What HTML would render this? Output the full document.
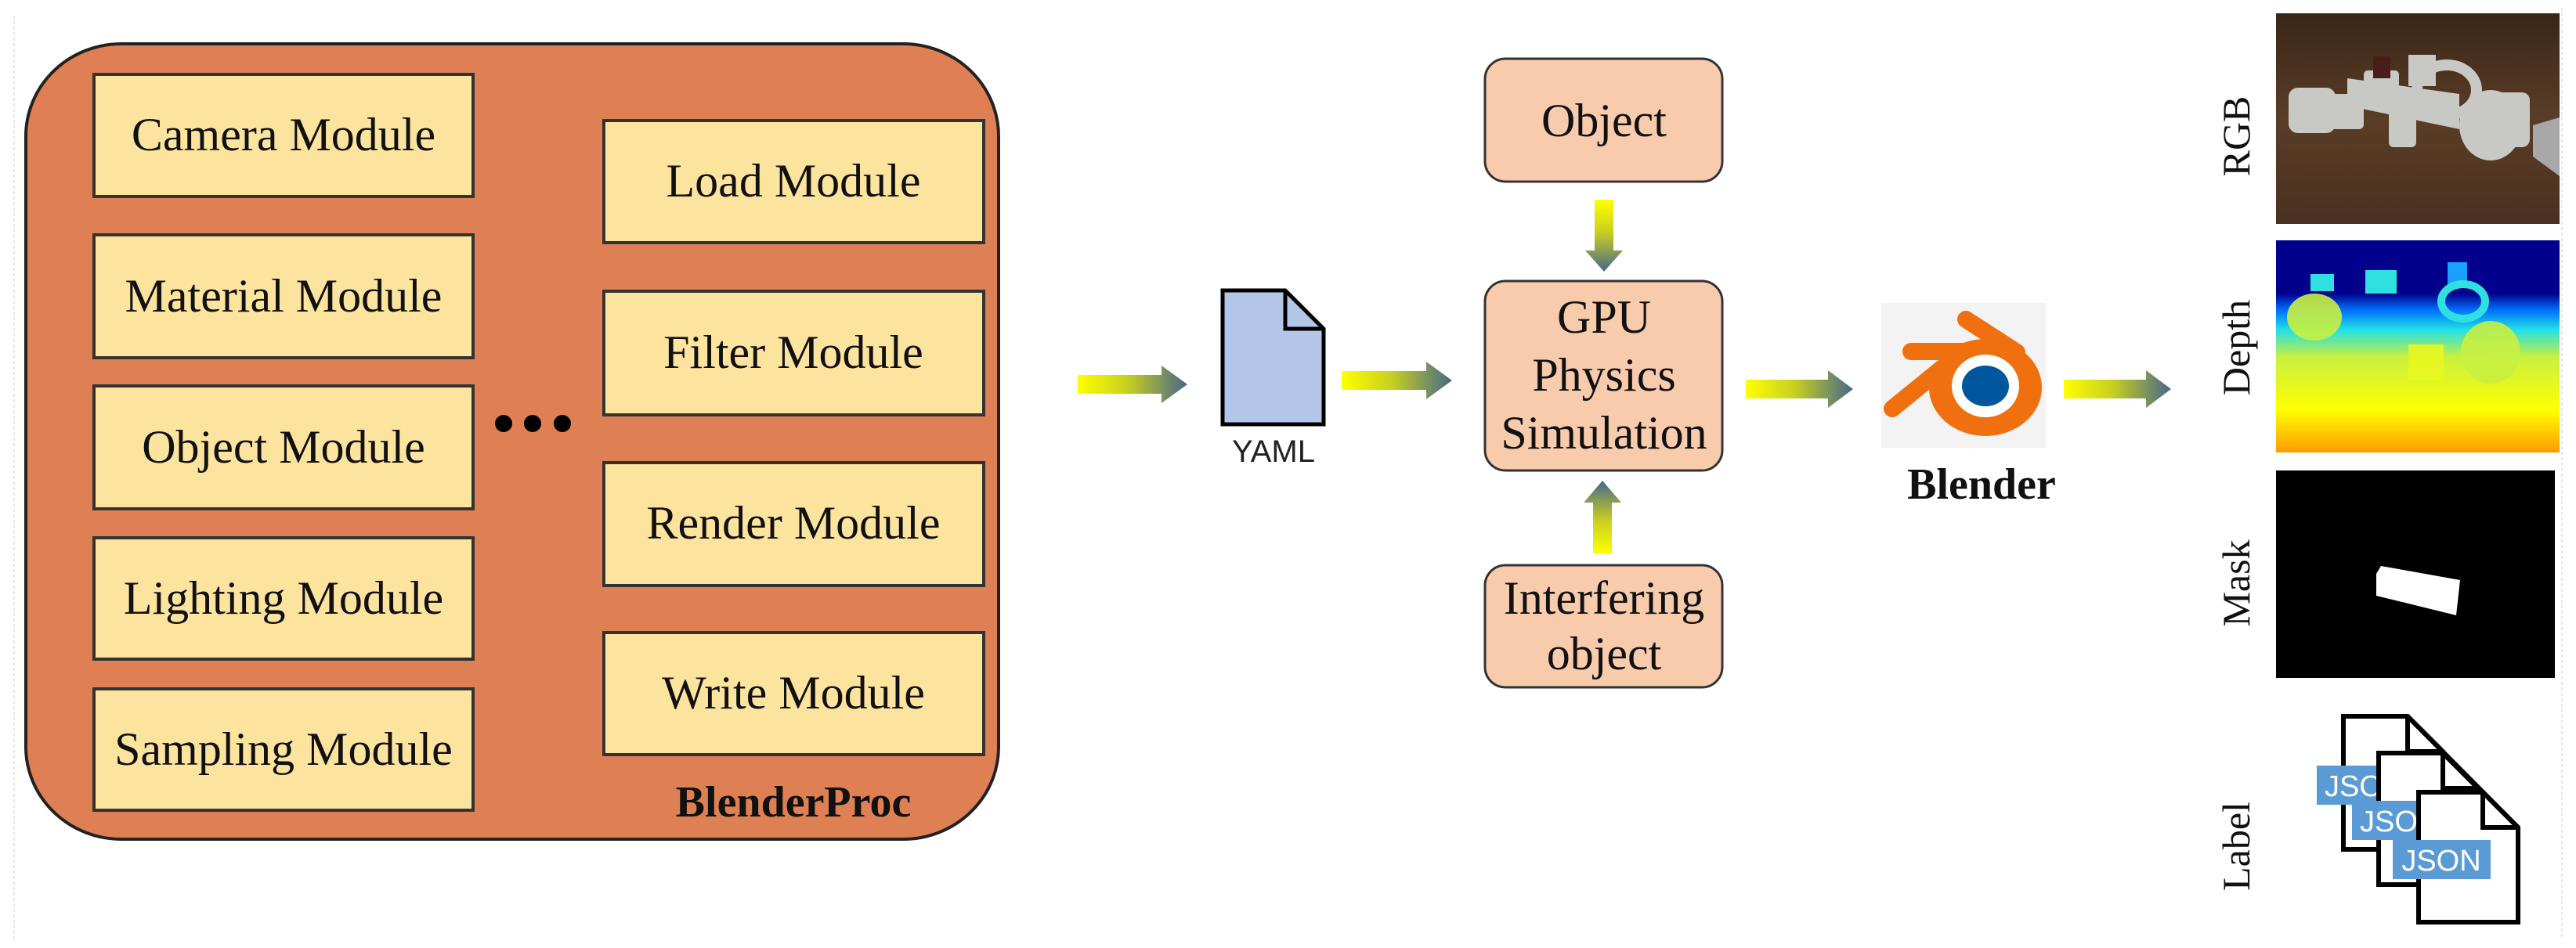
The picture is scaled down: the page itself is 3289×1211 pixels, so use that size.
<!DOCTYPE html>
<html><head><meta charset="utf-8"><style>
html,body{margin:0;padding:0;background:#fff;}
svg{display:block;}
.m{font-family:"Liberation Serif",serif;font-size:60px;fill:#111;text-anchor:middle;}
</style></head><body>
<svg width="3289" height="1211" viewBox="0 0 3289 1211" xmlns="http://www.w3.org/2000/svg">
<defs>
<linearGradient id="gh" x1="0" y1="0" x2="1" y2="0"><stop offset="0" stop-color="#ffff00"/><stop offset="0.45" stop-color="#c8d020"/><stop offset="1" stop-color="#46688a"/></linearGradient>
<linearGradient id="gd" x1="0" y1="0" x2="0" y2="1"><stop offset="0" stop-color="#ffff00"/><stop offset="0.45" stop-color="#c8d020"/><stop offset="1" stop-color="#46688a"/></linearGradient>
<linearGradient id="gu" x1="0" y1="1" x2="0" y2="0"><stop offset="0" stop-color="#ffff00"/><stop offset="0.45" stop-color="#c8d020"/><stop offset="1" stop-color="#46688a"/></linearGradient>
<linearGradient id="wood" x1="0" y1="0" x2="0" y2="1"><stop offset="0" stop-color="#3a2618"/><stop offset="0.5" stop-color="#5a3d26"/><stop offset="1" stop-color="#4a3020"/></linearGradient>
<linearGradient id="dep" x1="0" y1="0" x2="0" y2="1"><stop offset="0" stop-color="#00008c"/><stop offset="0.25" stop-color="#00008c"/><stop offset="0.33" stop-color="#0070ff"/><stop offset="0.42" stop-color="#20e0e8"/><stop offset="0.55" stop-color="#c8f040"/><stop offset="0.8" stop-color="#ffff00"/><stop offset="1" stop-color="#ff9a00"/></linearGradient>
</defs>
<line x1="18" y1="20" x2="18" y2="1200" stroke="#e6e6e6" stroke-width="2" stroke-dasharray="4 3"/>
<line x1="3271" y1="10" x2="3271" y2="1200" stroke="#e6e6e6" stroke-width="2" stroke-dasharray="4 3"/>

<!-- BlenderProc container -->
<rect x="33" y="56" width="1242" height="1016" rx="122" ry="118" fill="#df8054" stroke="#222" stroke-width="4"/>
<g fill="#fde49e" stroke="#333" stroke-width="4">
<rect x="120" y="95" width="484" height="156"/>
<rect x="120" y="300" width="484" height="157"/>
<rect x="120" y="493" width="484" height="157"/>
<rect x="120" y="687" width="484" height="155"/>
<rect x="120" y="880" width="484" height="155"/>
<rect x="771" y="154" width="485" height="156"/>
<rect x="771" y="372" width="485" height="158"/>
<rect x="771" y="591" width="485" height="157"/>
<rect x="771" y="808" width="485" height="156"/>
</g>
<text class="m" x="362" y="192">Camera Module</text>
<text class="m" x="362" y="398">Material Module</text>
<text class="m" x="362" y="591">Object Module</text>
<text class="m" x="362" y="784">Lighting Module</text>
<text class="m" x="362" y="977">Sampling Module</text>
<text class="m" x="1013" y="251">Load Module</text>
<text class="m" x="1013" y="470">Filter Module</text>
<text class="m" x="1013" y="688">Render Module</text>
<text class="m" x="1013" y="905">Write Module</text>
<circle cx="643" cy="541" r="11" fill="#000"/><circle cx="680" cy="541" r="11" fill="#000"/><circle cx="718" cy="541" r="11" fill="#000"/>
<text x="1013" y="1043" font-family="Liberation Serif,serif" font-weight="bold" font-size="56" text-anchor="middle" fill="#111">BlenderProc</text>

<!-- arrows horizontal -->
<g fill="url(#gh)">
<polygon points="1376,479 1483,479 1483,467 1516,491 1483,515 1483,503 1376,503"/>
<polygon points="1713,474 1821,474 1821,462 1854,486 1821,510 1821,498 1713,498"/>
<polygon points="2229,485 2334,485 2334,473 2366,497 2334,521 2334,509 2229,509"/>
<polygon points="2635,485 2740,485 2740,473 2772,497 2740,521 2740,509 2635,509"/>
</g>
<polygon fill="url(#gd)" points="2036,255 2060,255 2060,320 2072,320 2048,347 2024,320 2036,320"/>
<polygon fill="url(#gu)" points="2034,707 2058,707 2058,642 2070,642 2046,614 2022,642 2034,642"/>

<!-- YAML doc -->
<path d="M1561,371 L1641,371 L1690,420 L1690,542 L1561,542 Z" fill="#b4c6e7" stroke="#000" stroke-width="5"/>
<path d="M1641,371 L1641,420 L1690,420" fill="none" stroke="#000" stroke-width="5"/>
<text x="1626" y="590" font-family="Liberation Sans,sans-serif" font-size="40" text-anchor="middle" fill="#222">YAML</text>

<!-- center boxes -->
<g fill="#f8cbad" stroke="#333" stroke-width="3">
<rect x="1896" y="75" width="303" height="157" rx="26"/>
<rect x="1896" y="359" width="303" height="242" rx="26"/>
<rect x="1896" y="722" width="303" height="156" rx="26"/>
</g>
<text class="m" x="2048" y="174">Object</text>
<text class="m" x="2048" y="425">GPU</text>
<text class="m" x="2048" y="499">Physics</text>
<text class="m" x="2048" y="573">Simulation</text>
<text class="m" x="2048" y="784">Interfering</text>
<text class="m" x="2048" y="855">object</text>

<!-- Blender logo -->
<rect x="2402" y="387" width="210" height="185" fill="#f3f3f3"/>
<g stroke="#f07010" stroke-width="22" stroke-linecap="round" fill="none">
<line x1="2440" y1="449" x2="2530" y2="449"/>
<line x1="2510" y1="408" x2="2575" y2="450"/>
<line x1="2416" y1="522" x2="2480" y2="470"/>
</g>
<ellipse cx="2535" cy="495" rx="72" ry="62" fill="#f07010"/>
<ellipse cx="2535" cy="493" rx="43" ry="40" fill="#fff"/>
<ellipse cx="2535" cy="493" rx="30" ry="26" fill="#00579c"/>
<text x="2530" y="637" font-family="Liberation Serif,serif" font-weight="bold" font-size="56" text-anchor="middle" fill="#111">Blender</text>

<!-- side labels -->
<g font-family="Liberation Serif,serif" font-size="50" fill="#111" text-anchor="middle">
<text transform="translate(2872,174) rotate(-90)">RGB</text>
<text transform="translate(2872,444) rotate(-90)">Depth</text>
<text transform="translate(2872,745) rotate(-90)">Mask</text>
<text transform="translate(2872,1081) rotate(-90)">Label</text>
</g>

<!-- RGB image -->
<rect x="2906" y="17" width="362" height="269" fill="url(#wood)"/>
<g fill="#c8c8c4">
<rect x="2922" y="112" width="60" height="58" rx="12"/>
<rect x="2970" y="120" width="48" height="45" rx="6"/>
<polygon points="2997,100 3140,120 3140,165 2997,135"/>
<rect x="3018" y="90" width="45" height="35" rx="5"/>
<rect x="3075" y="70" width="35" height="40"/>
<ellipse cx="3124" cy="115" rx="38" ry="32" fill="none" stroke="#c8c8c4" stroke-width="14"/>
<rect x="3050" y="140" width="35" height="48" rx="6"/>
<ellipse cx="3180" cy="160" rx="40" ry="45"/>
<rect x="3160" y="118" width="70" height="70" rx="10"/>
<polygon points="3234,160 3268,150 3268,225 3234,200" fill="#a8a8a8"/>
</g>
<rect x="3030" y="72" width="22" height="28" fill="#4a1e18"/>

<!-- Depth image -->
<rect x="2906" y="307" width="362" height="271" fill="url(#dep)"/>
<g fill="#c8f040" opacity="0.9">
<ellipse cx="2955" cy="405" rx="35" ry="30"/>
<ellipse cx="3180" cy="450" rx="38" ry="40"/>
<rect x="3075" y="440" width="45" height="45" fill="#e8f820"/>
</g>
<g fill="#30e0e0"><rect x="2950" y="350" width="30" height="22"/><rect x="3020" y="345" width="40" height="30"/><rect x="3125" y="335" width="25" height="30" fill="#1aa0ff"/></g>
<ellipse cx="3145" cy="385" rx="28" ry="22" fill="none" stroke="#30e0e0" stroke-width="10"/>

<!-- Mask image -->
<rect x="2906" y="601" width="356" height="265" fill="#000"/>
<polygon points="3034,733 3040,723 3141,741 3136,786 3034,761" fill="#fff"/>

<!-- JSON stack -->
<g stroke="#000" stroke-width="6" fill="#fff" font-family="Liberation Sans,sans-serif">
<path d="M2992,915 L3074,915 L3119,960 L3119,1085 L2992,1085 Z"/>
<path d="M3074,915 L3074,960 L3119,960" fill="none"/>
</g>
<rect x="2958" y="978" width="90" height="50" fill="#5b9bd5"/>
<text x="2968" y="1017" font-family="Liberation Sans,sans-serif" font-size="38" fill="#fff">JSON</text>
<g stroke="#000" stroke-width="6" fill="#fff">
<path d="M3037,962 L3119,962 L3164,1007 L3164,1130 L3037,1130 Z"/>
<path d="M3119,962 L3119,1007 L3164,1007" fill="none"/>
</g>
<rect x="3003" y="1023" width="95" height="50" fill="#5b9bd5"/>
<text x="3013" y="1062" font-family="Liberation Sans,sans-serif" font-size="38" fill="#fff">JSON</text>
<g stroke="#000" stroke-width="6" fill="#fff">
<path d="M3088,1012 L3170,1012 L3215,1057 L3215,1178 L3088,1178 Z"/>
<path d="M3170,1012 L3170,1057 L3215,1057" fill="none"/>
</g>
<line x1="3074" y1="915" x2="3215" y2="1057" stroke="#000" stroke-width="6"/>
<rect x="3055" y="1073" width="125" height="50" fill="#5b9bd5"/>
<text x="3117" y="1112" font-family="Liberation Sans,sans-serif" font-size="38" fill="#fff" text-anchor="middle">JSON</text>
</svg>
</body></html>
